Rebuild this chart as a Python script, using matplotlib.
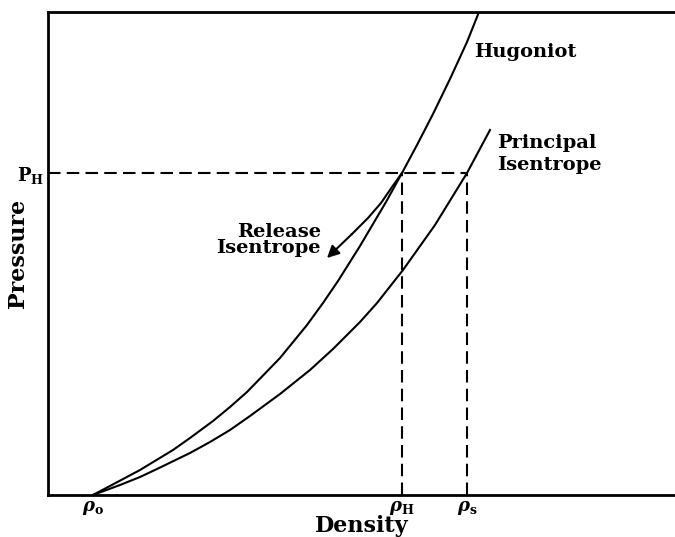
import matplotlib
matplotlib.use("Agg")
import matplotlib.pyplot as plt

# Schematic values (arbitrary units)
rho_0 = 93
rho_H = 402
rho_s = 467
P_H = 322

hug_rho = [93, 140, 173, 190, 213, 230, 247, 280, 307, 323, 338, 360, 386, 402,
           417, 433, 450, 467, 479]
hug_p = [0, 25, 45, 57, 74, 88, 103, 137, 170, 192, 214, 249, 293, 322,
         350, 381, 416, 453, 483]

isen_rho = [93, 120, 140, 157, 190, 210, 230, 250, 280, 310, 333, 360, 377, 403,
            435, 467, 490]
isen_p = [0, 10, 18, 26, 42, 53, 65, 79, 101, 125, 146, 173, 192, 225,
          270, 322, 365]

rel_rho = [402, 392, 381, 368, 352, 327]
rel_p = [322, 308, 292, 277, 261, 237]

tick_rho = [rho_0, rho_H, rho_s]
tick_labels = [r'$\rho_{\mathbf{o}}$', r'$\rho_{\mathbf{H}}$', r'$\rho_{\mathbf{s}}$']

plt.rcParams['font.family'] = 'DejaVu Serif'
plt.rcParams['font.weight'] = 'bold'
plt.rcParams['mathtext.fontset'] = 'dejavuserif'

fig = plt.figure(figsize=(6.75, 5.37), dpi=100)
ax = fig.add_axes([48 / 675, 1 - 495 / 537, 1 - 48 / 675, 483 / 537])

lw = 1.5
ax.plot(hug_rho, hug_p, color='black', lw=lw)
ax.plot(isen_rho, isen_p, color='black', lw=lw)
ax.plot(rel_rho[:-1], rel_p[:-1], color='black', lw=lw)
ax.annotate('', xy=(rel_rho[-1], rel_p[-1]), xytext=(rel_rho[-2], rel_p[-2]),
            arrowprops=dict(arrowstyle='-|>', color='black', lw=lw,
                            mutation_scale=18, shrinkA=0, shrinkB=0))

# dashed guides
ax.plot([48, rho_s], [P_H, P_H], color='black', lw=lw, dashes=(6, 3))
ax.plot([rho_H, rho_H], [0, P_H], color='black', lw=lw, dashes=(6, 3))
ax.plot([rho_s, rho_s], [0, P_H], color='black', lw=lw, dashes=(6, 3))

ax.set_xlim(48, 675)
ax.set_ylim(0, 483)

ax.set_xticks(tick_rho)
ax.set_xticklabels(tick_labels, fontsize=13)
ax.set_yticks([P_H])
ax.set_yticklabels([r'$\mathbf{P_H}$'], fontsize=13)
ax.tick_params(length=0, pad=3)

for s in ['left', 'top', 'bottom']:
    ax.spines[s].set_linewidth(2)
ax.spines['right'].set_visible(False)

ax.set_xlabel('Density', fontsize=16, fontweight='bold', va='center')
ax.xaxis.set_label_coords(0.5, -31 / 483)
ax.set_ylabel('Pressure', fontsize=16, fontweight='bold', va='center')
ax.yaxis.set_label_coords(-30 / 627, 0.5)

ax.text(474, 443, 'Hugoniot', fontsize=14, fontweight='bold', va='center', ha='left')
ax.text(497, 341, 'Principal\nIsentrope', fontsize=14, fontweight='bold',
        va='center', ha='left', linespacing=1.3)
ax.text(321, 255, 'Release\nIsentrope', fontsize=14, fontweight='bold',
        va='center', ha='right', multialignment='right', linespacing=0.85)

fig.savefig('out.png', dpi=100)
